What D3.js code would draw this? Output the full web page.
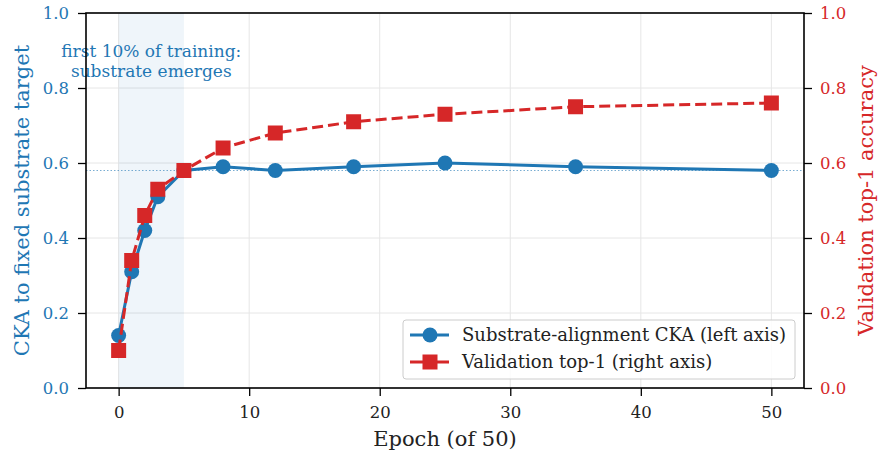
<!DOCTYPE html>
<html>
<head>
<meta charset="utf-8">
<script src="https://cdn.jsdelivr.net/npm/d3@7"></script>
<style>
  body { margin: 0; background: #fff; }
  text { font-family: "DejaVu Serif", serif; }
</style>
</head>
<body>
<div id="chart"></div>
<script>
// values
var epochs = [0, 1, 2, 3, 5, 8, 12, 18, 25, 35, 50]
var ckaValues = [0.14, 0.31, 0.42, 0.51, 0.58, 0.59, 0.58, 0.59, 0.60, 0.59, 0.58]
var accValues = [0.10, 0.34, 0.46, 0.53, 0.58, 0.64, 0.68, 0.71, 0.73, 0.75, 0.76]
var xTicks = [0, 10, 20, 30, 40, 50]
var yTicks = [0.0, 0.2, 0.4, 0.6, 0.8, 1.0]
var plateau = 0.58
var earlyWindow = [0, 5]

var blue = "#1f77b4", red = "#d62728"
var w = 881, h = 450
var margin = {left: 86, right: 77, top: 13, bottom: 62}

var svg = d3.select("#chart").append("svg")
    .attr("width", w)
    .attr("height", h)

var x = d3.scaleLinear().domain([-2.5, 52.5]).range([margin.left, w - margin.right])
var yL = d3.scaleLinear().domain([0, 1]).range([h - margin.bottom, margin.top])
var yR = d3.scaleLinear().domain([0, 1]).range([h - margin.bottom, margin.top])

//grid
var grid = svg.append("g")
grid.selectAll(".gx").data(xTicks).enter().append("line")
    .attr("x1", d => x(d)).attr("x2", d => x(d))
    .attr("y1", yL(0)).attr("y2", yL(1))
    .attr("stroke", "#e6e6e6").attr("stroke-width", 1)
grid.selectAll(".gy").data(yTicks).enter().append("line")
    .attr("x1", x.range()[0]).attr("x2", x.range()[1])
    .attr("y1", d => yL(d)).attr("y2", d => yL(d))
    .attr("stroke", "#e6e6e6").attr("stroke-width", 1)

//shaded early window
svg.append("rect")
    .attr("x", x(earlyWindow[0]))
    .attr("width", x(earlyWindow[1]) - x(earlyWindow[0]))
    .attr("y", yL(1))
    .attr("height", yL(0) - yL(1))
    .attr("fill", blue).attr("fill-opacity", 0.07)

//plateau reference
svg.append("line")
    .attr("x1", x.range()[0]).attr("x2", x.range()[1])
    .attr("y1", yL(plateau)).attr("y2", yL(plateau))
    .attr("stroke", blue).attr("stroke-opacity", 0.6)
    .attr("stroke-width", 1).attr("stroke-dasharray", "1.5,2")

svg.append("text")
    .attr("x", x(2.5)).attr("y", 57)
    .attr("text-anchor", "middle").attr("fill", blue)
    .attr("font-size", 17)
    .selectAll("tspan").data(["first 10% of training:", "substrate emerges"]).enter()
    .append("tspan")
    .attr("x", x(2.5)).attr("dy", (d, i) => i ? 20 : 0)
    .text(d => d)

//cka line
var ckaLine = d3.line().x((d, i) => x(epochs[i])).y(d => yL(d))
svg.append("path").datum(ckaValues)
    .attr("d", ckaLine)
    .attr("fill", "none").attr("stroke", blue).attr("stroke-width", 3)
svg.selectAll(".cka").data(ckaValues).enter().append("circle")
    .attr("cx", (d, i) => x(epochs[i])).attr("cy", d => yL(d))
    .attr("r", 7.5).attr("fill", blue)

//accuracy line
var accLine = d3.line().x((d, i) => x(epochs[i])).y(d => yR(d))
svg.append("path").datum(accValues)
    .attr("d", accLine)
    .attr("fill", "none").attr("stroke", red).attr("stroke-width", 3)
    .attr("stroke-dasharray", "11,5")
svg.selectAll(".acc").data(accValues).enter().append("rect")
    .attr("x", (d, i) => x(epochs[i]) - 7.5).attr("y", d => yR(d) - 7.5)
    .attr("width", 15).attr("height", 15).attr("fill", red)

//axes
var xAxis = svg.append("g")
    .attr("transform", "translate(0," + yL(0) + ")")
    .call(d3.axisBottom(x).tickValues(xTicks).tickSize(8).tickPadding(10))
var leftAxis = svg.append("g")
    .attr("transform", "translate(" + x.range()[0] + ",0)")
    .call(d3.axisLeft(yL).tickValues(yTicks).tickFormat(d3.format(".1f")).tickSize(8).tickPadding(9))
var rightAxis = svg.append("g")
    .attr("transform", "translate(" + x.range()[1] + ",0)")
    .call(d3.axisRight(yR).tickValues(yTicks).tickFormat(d3.format(".1f")).tickSize(8).tickPadding(8))

;[xAxis, leftAxis, rightAxis].forEach(function (g) {
    g.select(".domain").remove()
    g.selectAll(".tick line").attr("stroke", "#000").attr("stroke-width", 1.3)
    g.selectAll(".tick text").attr("font-size", 16.5).attr("font-family", "DejaVu Serif")
})
xAxis.selectAll(".tick text").attr("fill", "#222")
leftAxis.selectAll(".tick text").attr("fill", blue)
rightAxis.selectAll(".tick text").attr("fill", red)

//frame
svg.append("rect")
    .attr("x", x.range()[0]).attr("y", yL(1))
    .attr("width", x.range()[1] - x.range()[0]).attr("height", yL(0) - yL(1))
    .attr("fill", "none").attr("stroke", "#000").attr("stroke-width", 1.6)

//axis labels
svg.append("text")
    .attr("x", (x.range()[0] + x.range()[1]) / 2).attr("y", 446)
    .attr("text-anchor", "middle").attr("font-size", 21).attr("fill", "#222")
    .text("Epoch (of 50)")
svg.append("text")
    .attr("transform", "translate(29," + yL(0.5) + ") rotate(-90)")
    .attr("text-anchor", "middle").attr("font-size", 21).attr("fill", blue)
    .text("CKA to fixed substrate target")
svg.append("text")
    .attr("transform", "translate(873," + yL(0.5) + ") rotate(-90)")
    .attr("text-anchor", "middle").attr("font-size", 21).attr("fill", red)
    .text("Validation top-1 accuracy")

//legend
var legend = svg.append("g").attr("transform", "translate(403,320)")
legend.append("rect")
    .attr("width", 392).attr("height", 59).attr("rx", 3)
    .attr("fill", "#fff").attr("fill-opacity", 0.85)
    .attr("stroke", "#ccc").attr("stroke-width", 1)
var items = [
    {label: "Substrate-alignment CKA (left axis)", color: blue, shape: "circle"},
    {label: "Validation top-1 (right axis)", color: red, shape: "square"}
]
var li = legend.selectAll(".item").data(items).enter().append("g")
    .attr("transform", (d, i) => "translate(0," + (15 + i * 27) + ")")
li.append("line")
    .attr("x1", 7).attr("x2", 46)
    .attr("stroke", d => d.color).attr("stroke-width", 3)
li.each(function (d) {
    var g = d3.select(this)
    if (d.shape == "circle") {
        g.append("circle").attr("cx", 27).attr("r", 7.5).attr("fill", d.color)
    } else {
        g.append("rect").attr("x", 19.5).attr("y", -7.5).attr("width", 15).attr("height", 15).attr("fill", d.color)
    }
})
li.append("text")
    .attr("x", 59).attr("y", 6)
    .attr("font-size", 18).attr("fill", "#222")
    .text(d => d.label)
</script>
</body>
</html>
